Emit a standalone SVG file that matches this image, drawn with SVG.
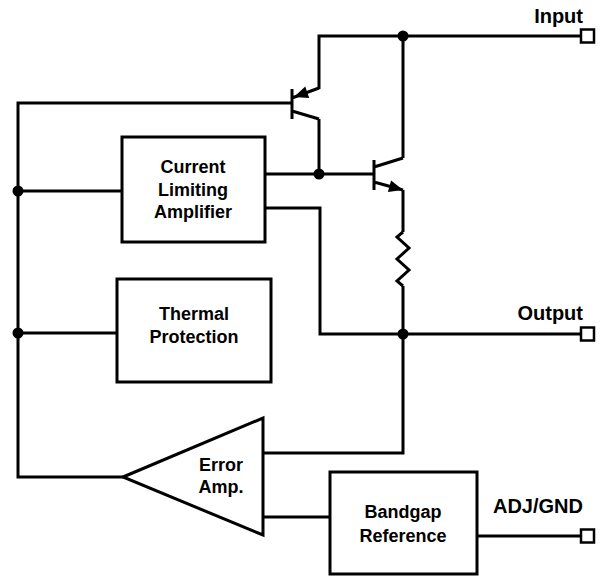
<svg xmlns="http://www.w3.org/2000/svg" width="600" height="576" viewBox="0 0 600 576">
<style>
.w{fill:none;stroke:#000;stroke-width:3;stroke-linejoin:miter;stroke-linecap:butt}
.b{fill:#fff;stroke:#000;stroke-width:3}
.t{fill:none;stroke:#000;stroke-width:2.5}
.d{fill:#000}
.a{fill:#000;stroke:none}
text{font-family:"Liberation Sans",Arial,sans-serif;font-weight:bold;fill:#000}
.bx{font-size:18px;text-anchor:middle}
.lb{font-size:20px;text-anchor:end}
</style>
<rect width="600" height="576" fill="#fff"/>
<g id="connectors">
<path class="w" d="M319,89 V36 H581"/>
<path class="w" d="M403,36 V158"/>
<path class="w" d="M292,103 H18 V477 H123"/>
<path class="w" d="M18,191 H122"/>
<path class="w" d="M18,333 H117"/>
<path class="w" d="M265,174 H374"/>
<path class="w" d="M319,119 V174"/>
<path class="w" d="M265,208 H320 V334 H581"/>
<path class="w" d="M403,190 V232"/>
<path class="w" d="M403,286 V453 H263"/>
<path class="w" d="M263,517 H330"/>
<path class="w" d="M477,536 H581"/>
<circle class="d" cx="403" cy="36" r="5.5"/>
<circle class="d" cx="319" cy="174" r="5.5"/>
<circle class="d" cx="18" cy="191" r="5.5"/>
<circle class="d" cx="18" cy="333" r="5.5"/>
<circle class="d" cx="403" cy="334" r="5.5"/>
</g>
<g id="pnp-transistor">
<path class="w" d="M292,89 V119 M292,98 L319,88 M292,111 L319,119"/>
<polygon class="a" points="294,97 309.2,97.9 305.2,86.6"/>
</g>
<g id="npn-transistor">
<path class="w" d="M374,160 V190 M374,167 L403,158 M374,182 L403,190"/>
<polygon class="a" points="403,190 387.9,192.1 391.1,180.5"/>
</g>
<g id="resistor">
<polyline class="w" points="403,232 397,237 409,248 397,259 409,270 397,281 403,286"/>
</g>
<g id="current-limiting-amplifier">
<rect class="b" x="122" y="137" width="143" height="105"/>
<text class="bx" x="193" y="173">Current</text>
<text class="bx" x="193" y="196">Limiting</text>
<text class="bx" x="193" y="218">Amplifier</text>
</g>
<g id="thermal-protection">
<rect class="b" x="117" y="279" width="154" height="103"/>
<text class="bx" x="194" y="320">Thermal</text>
<text class="bx" x="194" y="343">Protection</text>
</g>
<g id="error-amp">
<polygon class="b" points="123,477 263,418 263,535"/>
<text class="bx" x="221" y="471">Error</text>
<text class="bx" x="221" y="493">Amp.</text>
</g>
<g id="bandgap-reference">
<rect class="b" x="330" y="472" width="147" height="102"/>
<text class="bx" x="403" y="518">Bandgap</text>
<text class="bx" x="403" y="542">Reference</text>
</g>
<g id="input-terminal">
<rect class="t" x="581" y="29.5" width="13" height="13" fill="#fff"/>
<text class="lb" x="583" y="23">Input</text>
</g>
<g id="output-terminal">
<rect class="t" x="581" y="327.5" width="13" height="13" fill="#fff"/>
<text class="lb" x="583" y="320">Output</text>
</g>
<g id="adj-gnd-terminal">
<rect class="t" x="581" y="529.5" width="13" height="13" fill="#fff"/>
<text class="lb" x="583" y="513">ADJ/GND</text>
</g>
</svg>
